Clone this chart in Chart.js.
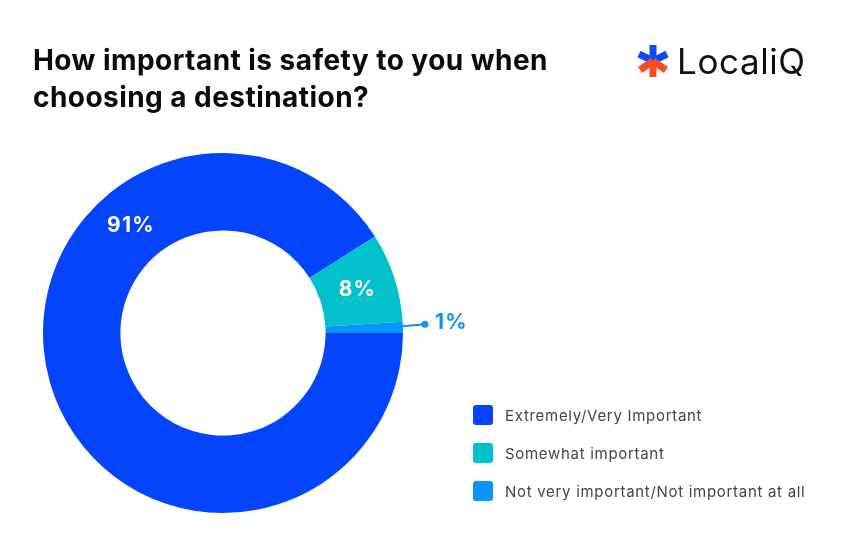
<!DOCTYPE html>
<html>
<head>
<meta charset="utf-8">
<script src="https://cdn.jsdelivr.net/npm/chart.js@4.4.1/dist/chart.umd.min.js"></script>
<style>
  html, body { margin: 0; padding: 0; background: #fff; }
  body { width: 846px; height: 554px; position: relative; overflow: hidden; font-family: "Inter", "Noto Sans", sans-serif; }
  #wrap { position: absolute; left: 0; top: 0; width: 846px; height: 554px; }
  .title { position: absolute; left: 33px; top: 42px; font-size: 28px; font-weight: 700; line-height: 37px; color: #0b0b0b; letter-spacing: 0.45px; }
  .logo { position: absolute; left: 636px; top: 40px; display: flex; align-items: center; }
  .logo span { font-size: 35px; color: #111; margin-left: 7px; letter-spacing: 0.6px; }
  #legend { position: absolute; left: 473px; top: 405px; }
  .item { display: flex; align-items: center; height: 20px; margin-bottom: 18px; font-size: 15px; color: #444; letter-spacing: 0.7px; }
  .sw { width: 20px; height: 20px; border-radius: 3px; margin-right: 12px; }
</style>
</head>
<body>
<div id="wrap"><canvas id="chart" width="846" height="554"></canvas></div>
<div class="title">How important is safety to you when<br>choosing a destination?</div>
<div class="logo">
  <svg width="34" height="34" viewBox="0 0 34 34">
    <g stroke-width="7" stroke-linecap="butt">
      <line x1="17" y1="1" x2="17" y2="17" stroke="#0d4cf5"/>
      <line x1="3" y1="10" x2="17" y2="17" stroke="#0d4cf5"/>
      <line x1="31" y1="10" x2="17" y2="17" stroke="#0d4cf5"/>
      <line x1="17" y1="17" x2="17" y2="33" stroke="#f4501e"/>
      <line x1="17" y1="17" x2="4" y2="26" stroke="#f4501e"/>
      <line x1="17" y1="17" x2="30" y2="26" stroke="#f4501e"/>
    </g>
  </svg>
  <span>LocaliQ</span>
</div>
<div id="legend"></div>
<script>
// categories + values
const labels = ['Extremely/Very Important', 'Somewhat important', 'Not very important/Not important at all'];
const values = [91, 8, 1];
const colors = ['#0444fc', '#02c1cb', '#0a95fd'];
// where the % label sits along each slice (0..1), and whether it goes outside
const labelPos = [0.70, 0.5, 0.5];
const labelOutside = [false, false, true];

// html legend
const legendEl = document.getElementById('legend');
labels.forEach((l, i) => {
    const row = document.createElement('div');
    row.className = 'item';
    row.innerHTML = `<div class="sw" style="background:${colors[i]}"></div>${l}`;
    legendEl.appendChild(row);
});

// draws the percentage labels (and the leader line for the small slice)
const pctLabels = {
    id: 'pctLabels',
    afterDatasetsDraw(chart) {
        const ctx = chart.ctx;
        const arcs = chart.getDatasetMeta(0).data;
        ctx.save();
        ctx.font = '700 21px "Inter", "Noto Sans", sans-serif';
        ctx.letterSpacing = '1.2px';
        ctx.textBaseline = 'middle';
        arcs.forEach((arc, i) => {
            const p = arc.getProps(['x', 'y', 'startAngle', 'endAngle', 'innerRadius', 'outerRadius']);
            const a = p.startAngle + (p.endAngle - p.startAngle) * labelPos[i];
            const txt = values[i] + '%';
            if (!labelOutside[i]) {
                const r = (p.innerRadius + p.outerRadius) / 2;
                ctx.fillStyle = '#fff';
                ctx.textAlign = 'center';
                ctx.fillText(txt, p.x + Math.cos(a) * r, p.y + Math.sin(a) * r);
            } else {
                const x0 = p.x + Math.cos(a) * p.outerRadius;
                const y0 = p.y + Math.sin(a) * p.outerRadius;
                ctx.strokeStyle = colors[i];
                ctx.fillStyle = colors[i];
                ctx.lineWidth = 2;
                ctx.beginPath();
                ctx.moveTo(x0, y0 - 1);
                ctx.lineTo(x0 + 22, y0 - 3);
                ctx.stroke();
                ctx.beginPath();
                ctx.arc(x0 + 22, y0 - 3, 3.5, 0, Math.PI * 2);
                ctx.fill();
                ctx.textAlign = 'left';
                ctx.fillText(txt, x0 + 32, y0 - 5);
            }
        });
        ctx.restore();
    }
};

new Chart(document.getElementById('chart'), {
    type: 'doughnut',
    data: {
        labels: labels,
        datasets: [{
            data: values,
            backgroundColor: colors,
            borderWidth: 0
        }]
    },
    options: {
        responsive: false,
        animation: false,
        rotation: 90,
        cutout: '57%',
        layout: { padding: { left: 43, right: 443, top: 153, bottom: 41 } },
        plugins: { legend: { display: false }, tooltip: { enabled: false } }
    },
    plugins: [pctLabels]
});
</script>
</body>
</html>
